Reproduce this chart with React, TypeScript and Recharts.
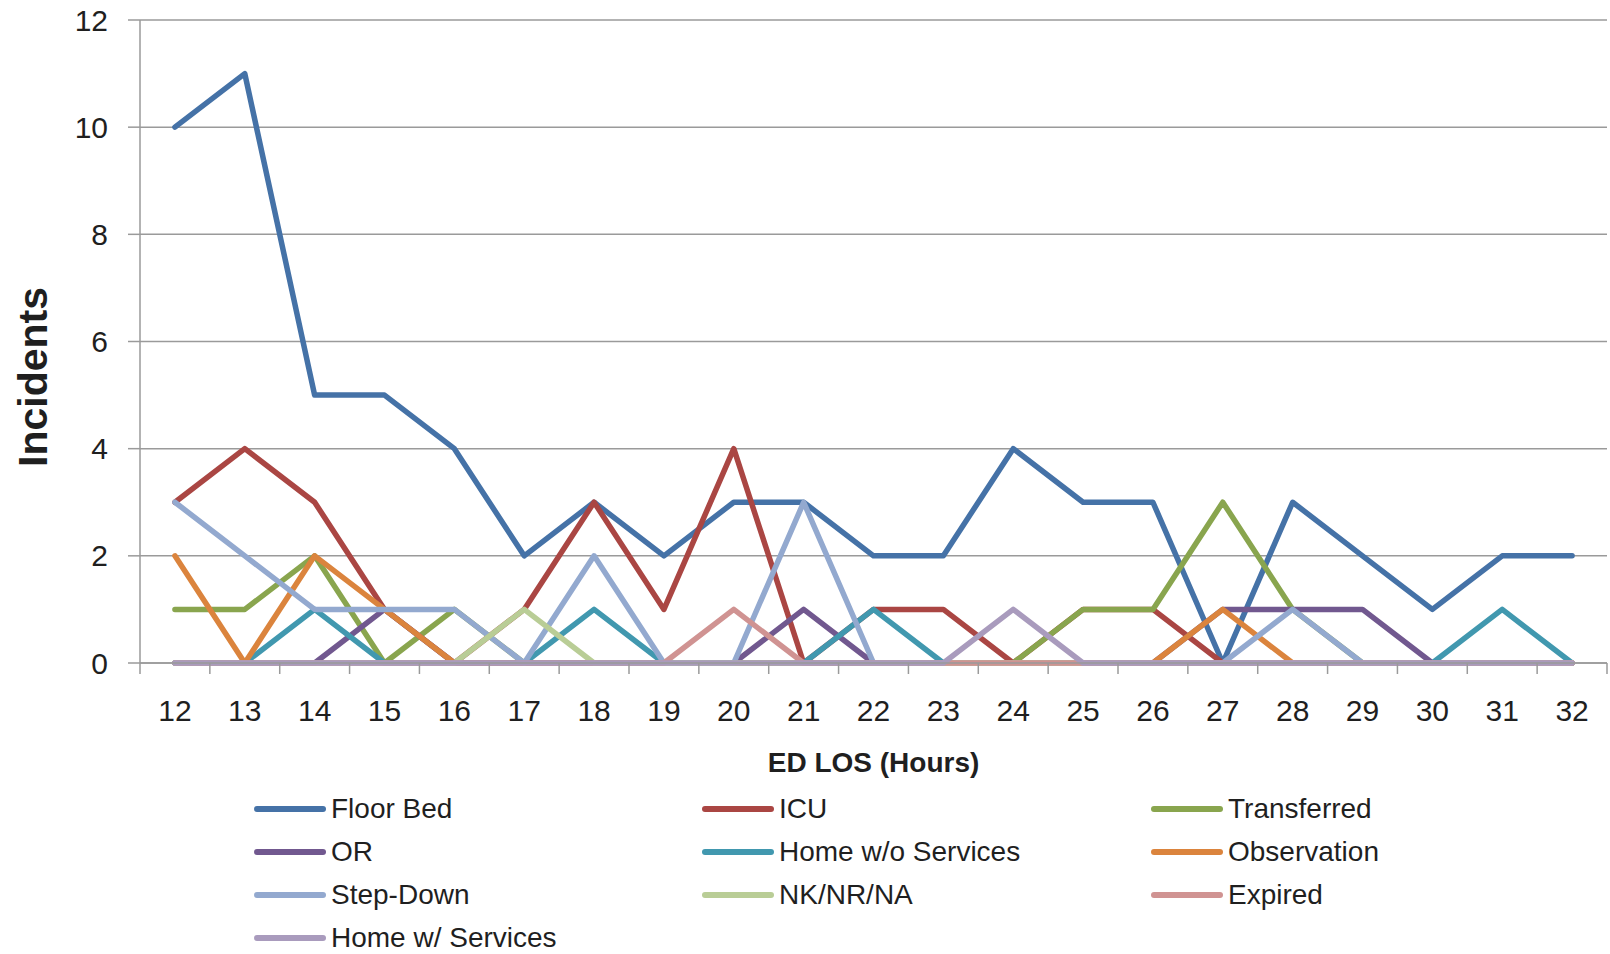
import React from "react";
import { LineChart, Line, XAxis, YAxis, CartesianGrid } from "recharts";

const HOURS = [12, 13, 14, 15, 16, 17, 18, 19, 20, 21, 22, 23, 24, 25, 26, 27, 28, 29, 30, 31, 32];
const Y_TICKS = [0, 2, 4, 6, 8, 10, 12];

const FLOOR_BED = [10, 11, 5, 5, 4, 2, 3, 2, 3, 3, 2, 2, 4, 3, 3, 0, 3, 2, 1, 2, 2];
const ICU = [3, 4, 3, 1, 0, 1, 3, 1, 4, 0, 1, 1, 0, 1, 1, 0, 0, 0, 0, 0, 0];
const TRANSFERRED = [1, 1, 2, 0, 1, 0, 0, 0, 0, 0, 0, 0, 0, 1, 1, 3, 1, 0, 0, 0, 0];
const OR = [0, 0, 0, 1, 0, 0, 0, 0, 0, 1, 0, 0, 0, 0, 0, 1, 1, 1, 0, 0, 0];
const HOME_WO = [0, 0, 1, 0, 0, 0, 1, 0, 0, 0, 1, 0, 0, 0, 0, 0, 0, 0, 0, 1, 0];
const OBSERVATION = [2, 0, 2, 1, 0, 0, 0, 0, 0, 0, 0, 0, 0, 0, 0, 1, 0, 0, 0, 0, 0];
const STEP_DOWN = [3, 2, 1, 1, 1, 0, 2, 0, 0, 3, 0, 0, 0, 0, 0, 0, 1, 0, 0, 0, 0];
const NK_NR_NA = [0, 0, 0, 0, 0, 1, 0, 0, 0, 0, 0, 0, 0, 0, 0, 0, 0, 0, 0, 0, 0];
const EXPIRED = [0, 0, 0, 0, 0, 0, 0, 0, 1, 0, 0, 0, 0, 0, 0, 0, 0, 0, 0, 0, 0];
const HOME_W = [0, 0, 0, 0, 0, 0, 0, 0, 0, 0, 0, 0, 1, 0, 0, 0, 0, 0, 0, 0, 0];

const SERIES = [
  { key: "floor", name: "Floor Bed", color: "#4572A7", values: FLOOR_BED },
  { key: "icu", name: "ICU", color: "#AA4643", values: ICU },
  { key: "transferred", name: "Transferred", color: "#89A54E", values: TRANSFERRED },
  { key: "or", name: "OR", color: "#71588F", values: OR },
  { key: "homewo", name: "Home w/o Services", color: "#4198AF", values: HOME_WO },
  { key: "obs", name: "Observation", color: "#DB843D", values: OBSERVATION },
  { key: "step", name: "Step-Down", color: "#93A9CF", values: STEP_DOWN },
  { key: "nk", name: "NK/NR/NA", color: "#B9CD96", values: NK_NR_NA },
  { key: "expired", name: "Expired", color: "#D09392", values: EXPIRED },
  { key: "homew", name: "Home w/ Services", color: "#A99BBD", values: HOME_W },
];

const FONT = '"Liberation Sans", Arial, sans-serif';
const TEXT = "#1f1f1f";
const AXIS = "#9a9a9a";

const data = HOURS.map((h, i) => {
  const row: Record<string, number> = { hour: h };
  SERIES.forEach((s) => {
    row[s.key] = s.values[i];
  });
  return row;
});

// labels at the hours, tick marks half way between them
const X_TICKS = HOURS.flatMap((h, i) => (i === 0 ? [h - 0.5, h, h + 0.5] : [h, h + 0.5]));

function HourTick(props: any) {
  const { x, y, payload } = props;
  if (Number.isInteger(payload.value)) {
    return (
      <text x={x} y={y + 58} textAnchor="middle" fontSize={30} fill={TEXT} fontFamily={FONT}>
        {payload.value}
      </text>
    );
  }
  return <line x1={x} x2={x} y1={y} y2={y + 11} stroke={AXIS} strokeWidth={1.5} />;
}

export default function App() {
  return (
    <div style={{ position: "absolute", left: 0, top: 0, width: 1610, height: 954, background: "#fff" }}>
      <LineChart width={1610} height={954} data={data} margin={{ top: 20, right: 3, left: 0, bottom: 0 }}>
        <CartesianGrid vertical={false} stroke={AXIS} strokeWidth={1.5} />
        <XAxis
          dataKey="hour"
          type="number"
          domain={[HOURS[0] - 0.5, HOURS[HOURS.length - 1] + 0.5]}
          ticks={X_TICKS}
          interval={0}
          height={291}
          tickSize={0}
          tickMargin={0}
          tickLine={false}
          axisLine={{ stroke: AXIS, strokeWidth: 1.5 }}
          tick={<HourTick />}
          label={{
            content: (p: any) => (
              <text
                x={p.viewBox.x + p.viewBox.width / 2}
                y={p.viewBox.y + 109}
                textAnchor="middle"
                fontSize={28}
                fontWeight="bold"
                fill={TEXT}
                fontFamily={FONT}
              >
                ED LOS (Hours)
              </text>
            ),
          }}
        />
        <YAxis
          domain={[0, 12]}
          ticks={Y_TICKS}
          interval={0}
          width={140}
          tickSize={12}
          tickMargin={20}
          tickLine={{ stroke: AXIS, strokeWidth: 1.5 }}
          axisLine={{ stroke: AXIS, strokeWidth: 1.5 }}
          tick={{ fontSize: 30, fill: TEXT, fontFamily: FONT }}
          label={{
            content: (p: any) => (
              <text
                x={33}
                y={p.viewBox.y + 357}
                transform={`rotate(-90 33 ${p.viewBox.y + 357})`}
                textAnchor="middle"
                dominantBaseline="central"
                fontSize={41}
                fontWeight="bold"
                fill={TEXT}
                fontFamily={FONT}
              >
                Incidents
              </text>
            ),
          }}
        />
        {SERIES.map((s) => (
          <Line
            key={s.key}
            type="linear"
            dataKey={s.key}
            name={s.name}
            stroke={s.color}
            strokeWidth={5.5}
            strokeLinecap="round"
            strokeLinejoin="round"
            dot={false}
            activeDot={false}
            isAnimationActive={false}
          />
        ))}
      </LineChart>

      <div
        style={{
          position: "absolute",
          left: 254,
          top: 787,
          display: "grid",
          gridTemplateColumns: "448px 449px 380px",
          rowGap: 0,
          fontFamily: FONT,
          fontSize: 28,
          color: TEXT,
        }}
      >
        {SERIES.map((s) => (
          <div key={s.key} style={{ display: "flex", alignItems: "center", height: 43 }}>
            <span
              style={{
                display: "inline-block",
                width: 72,
                height: 6,
                borderRadius: 3,
                background: s.color,
                marginRight: 5,
              }}
            />
            <span>{s.name}</span>
          </div>
        ))}
      </div>
    </div>
  );
}
